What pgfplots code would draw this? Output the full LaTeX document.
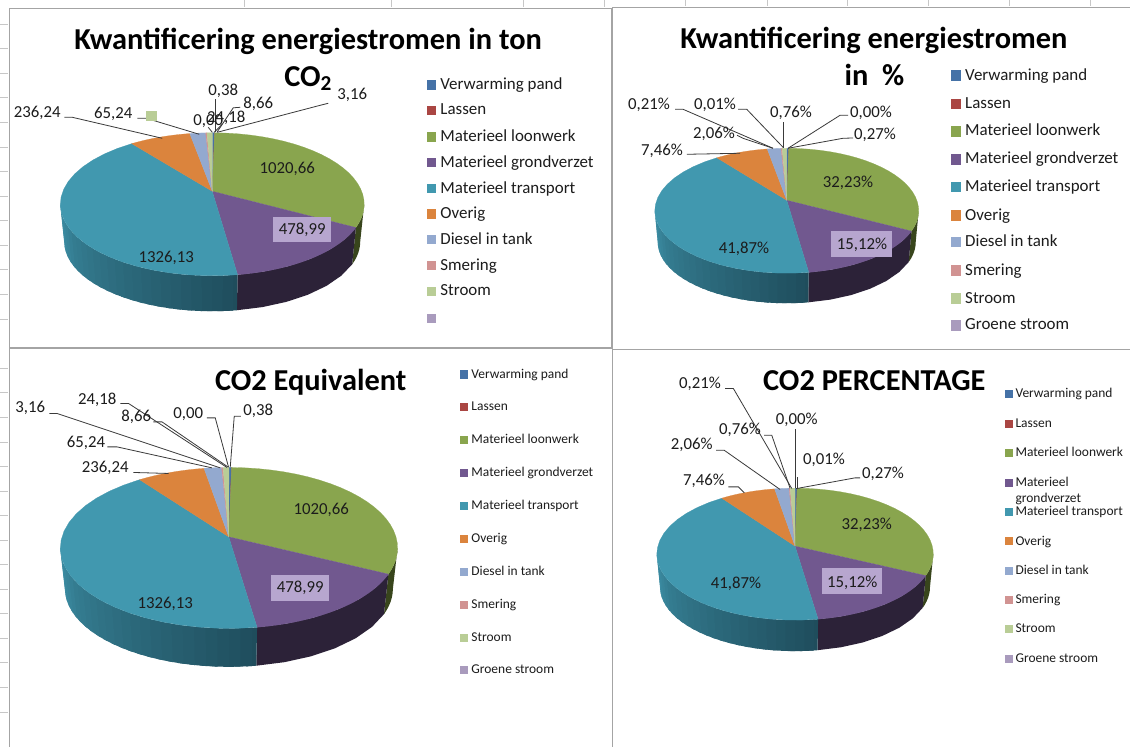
\documentclass[border=0pt]{standalone}
\usepackage{pgfplots}
\pgfplotsset{compat=1.18}
\usepackage{fontspec}
\setmainfont{Carlito}
\definecolor{cVerw}{HTML}{4572A7}
\definecolor{cLas}{HTML}{AA4643}
\definecolor{cLoon}{HTML}{89A54E}
\definecolor{cGrond}{HTML}{71588F}
\definecolor{cTrans}{HTML}{4198AF}
\definecolor{cOver}{HTML}{DB843D}
\definecolor{cDies}{HTML}{93A9CF}
\definecolor{cSmer}{HTML}{D19392}
\definecolor{cStro}{HTML}{B9CD96}
\definecolor{cGroen}{HTML}{A99BBD}
\definecolor{sideG}{HTML}{38451C}
\definecolor{sideP}{HTML}{2C2238}
\definecolor{sideTL}{HTML}{3B8BA1}
\definecolor{sideTD}{HTML}{1F4D5C}
\definecolor{boxP}{HTML}{B7A6CF}
\definecolor{frameC}{HTML}{A4A4A4}
\definecolor{txtC}{HTML}{1C1C1C}
\definecolor{leadC}{HTML}{3A3A3A}
% top-face wedge: #1,#2 = rim parameters, #3 = colour
\newcommand{\slice}[3]{%
  \xdef\clist{(\ax,\ay)}%
  \foreach \i in {0,...,24}{%
    \pgfmathsetmacro\t{#1+(#2-#1)*\i/24}%
    \pgfmathsetmacro\xx{\cx+\rx*sin(\t)}%
    \pgfmathsetmacro\yy{\cy-\ry*cos(\t)}%
    \xdef\clist{\clist (\xx,\yy)}%
  }%
  \edef\temp{\noexpand\addplot[fill=#3,draw=#3,line width=0.15pt] coordinates {\clist} -- cycle;}\temp
}
% side strip: between upper and lower rim
\newcommand{\side}[3]{%
  \xdef\clist{}%
  \foreach \i in {0,...,6}{%
    \pgfmathsetmacro\t{#1+(#2-#1)*\i/6}%
    \pgfmathsetmacro\xx{\cx+\rx*sin(\t)}%
    \pgfmathsetmacro\yy{\cy-\ry*cos(\t)}%
    \xdef\clist{\clist (\xx,\yy)}%
  }%
  \foreach \i in {6,...,0}{%
    \pgfmathsetmacro\t{#1+(#2-#1)*\i/6}%
    \pgfmathsetmacro\xx{\cx+\rxb*sin(\t)}%
    \pgfmathsetmacro\yy{\cyb-\ryb*cos(\t)}%
    \xdef\clist{\clist (\xx,\yy)}%
  }%
  \edef\temp{\noexpand\addplot[fill=#3,draw=none] coordinates {\clist} -- cycle;}\temp
}
\newcommand{\pie}{%
  \side{90}{109}{sideG}%
  \side{109}{170.4}{sideP}%
  \foreach \tA/\tB/\m in {170.4/174/0,172/178/4,176/182/8,180/186/12,184/190/16,188/194/20,192/198/24,196/202/28,200/206/32,204/210/36,208/214/40,212/218/44,216/222/48,220/226/52,224/230/56,228/234/60,232/238/64,236/242/68,240/246/72,244/250/76,248/254/82,252/258/88,256/262/94,260/266/100,264/272/100}{%
    \side{\tA}{\tB}{sideTL!\m!sideTD}%
  }%
  \slice{0}{0.85}{cVerw}%
  \slice{0.85}{0.9}{cLas}%
  \slice{0.9}{109}{cLoon}%
  \slice{109}{170.4}{cGrond}%
  \slice{170.4}{328}{cTrans}%
  \slice{328}{351.5}{cOver}%
  \slice{351.5}{357.5}{cDies}%
  \slice{357.5}{358}{cSmer}%
  \slice{358}{360}{cStro}%
}
\newcommand{\lab}[3]{\node[anchor=center,inner sep=0pt,yshift=-0.5pt,text=txtC,font=\fontsize{12.6}{14}\selectfont] at (axis cs:#1,#2) {#3};}
\newcommand{\ttl}[3]{\node[anchor=base,inner sep=0pt,text=black,font=\fontsize{22.8}{26}\selectfont\bfseries] at (axis cs:#1,#2) {#3};}
\newcommand{\lead}[1]{\addplot[leadC,line width=0.6pt] coordinates {#1};}
\newcommand{\boxp}[4]{\addplot[fill=boxP,draw=none] coordinates {(#1,#3) (#2,#3) (#2,#4) (#1,#4)} -- cycle;}
% legend entry: marker x, text x, y, half-size, colour, text, font size
\newcommand{\lgd}[7]{%
  \addplot[only marks,mark=square*,mark size=#4,color=#5] coordinates {(#1,#3)};
  \node[anchor=west,inner sep=0pt,yshift=-0.4pt,text=txtC,font=\fontsize{#7}{#7}\selectfont] at (axis cs:#2,#3) {\vphantom{Mg}#6};
}
\begin{document}
\begin{tikzpicture}
\begin{axis}[
  scale only axis,width=848.25pt,height=560.25pt,
  xmin=0,xmax=1131,ymin=0,ymax=747,y dir=reverse,
  hide axis,clip=false,unbounded coords=jump,
  every axis plot/.append style={forget plot},
]
% page extent
\addplot[draw=none,fill=white] coordinates {(0,0) (1131,0) (1131,747) (0,747)} -- cycle;
% sheet grid stubs
\addplot[black!22,line width=0.5pt] coordinates {(0,24) (8,24) (nan,nan) (0,48) (8,48) (nan,nan) (0,73) (8,73) (nan,nan) (0,97) (8,97) (nan,nan) (0,122) (8,122) (nan,nan) (0,147) (8,147) (nan,nan) (0,171) (8,171) (nan,nan) (0,196) (8,196) (nan,nan) (0,220) (8,220) (nan,nan) (0,245) (8,245) (nan,nan) (0,269) (8,269) (nan,nan) (0,294) (8,294) (nan,nan) (0,319) (8,319) (nan,nan) (0,368) (8,368) (nan,nan) (0,392) (8,392) (nan,nan) (0,417) (8,417) (nan,nan) (0,442) (8,442) (nan,nan) (0,466) (8,466) (nan,nan) (0,491) (8,491) (nan,nan) (0,515) (8,515) (nan,nan) (0,540) (8,540) (nan,nan) (0,564) (8,564) (nan,nan) (0,589) (8,589) (nan,nan) (0,613) (8,613) (nan,nan) (0,638) (8,638) (nan,nan) (0,662) (8,662) (nan,nan) (0,687) (8,687) (nan,nan) (0,712) (8,712)};
\addplot[black!22,line width=0.5pt] coordinates {(244,0) (244,7) (nan,nan) (391,0) (391,7) (nan,nan) (523,0) (523,7) (nan,nan) (604,0) (604,7) (nan,nan) (685,0) (685,6) (nan,nan) (767,0) (767,6) (nan,nan) (847,0) (847,6) (nan,nan) (928,0) (928,6) (nan,nan) (1009,0) (1009,6) (nan,nan) (1090,0) (1090,6)};
% frames
\addplot[frameC,line width=0.9pt] coordinates {(9,746.5) (9,8) (611.5,8) (611.5,348)};
\addplot[frameC,line width=1.1pt] coordinates {(9,348) (612.5,348) (612.5,746.5)};
\addplot[frameC,line width=0.9pt] coordinates {(612,348) (612,7) (1130.5,7)};
\addplot[frameC,line width=0.9pt] coordinates {(613,349.5) (1130.5,349.5)};
% ---------- chart 1
\def\cx{212}\def\cy{204}\def\rx{152}\def\ry{71.5}\def\ax{212}\def\ay{191}\def\rxb{148}\def\ryb{69.5}\def\cyb{241.5}
\pie
\ttl{308}{49}{Kwantificering energiestromen in ton}
\ttl{308}{86}{CO\textsubscript{2}}
\lead{(64,117) (72,117) (162,138)}
\lead{(137,118) (146,118) (199,134)}
\lead{(328,103) (320,105) (217,132)}
\lead{(240,107) (233,107.5) (217,131.5)}
\lead{(215,99) (215,132)}
\lead{(222,124) (214,132)}
\lead{(208,127) (212,132)}
\addplot[only marks,mark=square*,mark size=3.6pt,color=cStro] coordinates {(151,115.5)};
\boxp{273}{331}{217}{242}
\lab{223}{89.5}{0,38}
\lab{258}{103}{8,66}
\lab{352}{94}{3,16}
\lab{37}{112}{236,24}
\lab{113}{113}{65,24}
\lab{208}{120}{0,00}
\lab{226}{117}{24,18}
\lab{287}{168}{1020,66}
\lab{302}{229}{478,99}
\lab{166}{257}{1326,13}
\lgd{431}{440}{84.7}{3.2pt}{cVerw}{Verwarming pand}{12.7}
\lgd{431}{440}{110}{3.2pt}{cLas}{Lassen}{12.7}
\lgd{431}{440}{136.3}{3.2pt}{cLoon}{Materieel loonwerk}{12.7}
\lgd{431}{440}{162}{3.2pt}{cGrond}{Materieel grondverzet}{12.7}
\lgd{431}{440}{188}{3.2pt}{cTrans}{Materieel transport}{12.7}
\lgd{431}{440}{213.7}{3.2pt}{cOver}{Overig}{12.7}
\lgd{431}{440}{239}{3.2pt}{cDies}{Diesel in tank}{12.7}
\lgd{431}{440}{265}{3.2pt}{cSmer}{Smering}{12.7}
\lgd{431}{440}{291}{3.2pt}{cStro}{Stroom}{12.7}
\addplot[only marks,mark=square*,mark size=3.2pt,color=cGroen] coordinates {(431,318)};
% ---------- chart 2
\def\cx{786.7}\def\cy{210.5}\def\rx{132}\def\ry{62.5}\def\ax{786.7}\def\ay{200}\def\rxb{129}\def\ryb{61}\def\cyb{242}
\pie
\ttl{874}{47.7}{Kwantificering energiestromen}
\ttl{874.5}{85}{in\ \ \%}
\lead{(675,109) (683,109) (773,148)}
\lead{(737,135) (743,138) (773,148)}
\lead{(738,109) (746.7,109) (783,147)}
\lead{(783.3,122) (783.3,148)}
\lead{(686.7,154) (740,153)}
\lead{(848,115) (840,115) (788,148)}
\lead{(853,137.7) (843,138) (788,148)}
\boxp{831}{892}{231}{257}
\lab{649}{104}{0,21\%}
\lab{715}{104}{0,01\%}
\lab{791}{112}{0,76\%}
\lab{871}{112}{0,00\%}
\lab{875}{134}{0,27\%}
\lab{714}{133}{2,06\%}
\lab{662}{150}{7,46\%}
\lab{848}{182}{32,23\%}
\lab{862}{244}{15,12\%}
\lab{744}{248}{41,87\%}
\lgd{955.7}{965}{75}{3.6pt}{cVerw}{Verwarming pand}{12.7}
\lgd{955.7}{965}{103.3}{3.6pt}{cLas}{Lassen}{12.7}
\lgd{955.7}{965}{130.7}{3.6pt}{cLoon}{Materieel loonwerk}{12.7}
\lgd{955.7}{965}{158.7}{3.6pt}{cGrond}{Materieel grondverzet}{12.7}
\lgd{955.7}{965}{186.7}{3.6pt}{cTrans}{Materieel transport}{12.7}
\lgd{955.7}{965}{215}{3.6pt}{cOver}{Overig}{12.7}
\lgd{955.7}{965}{241.7}{3.6pt}{cDies}{Diesel in tank}{12.7}
\lgd{955.7}{965}{270}{3.6pt}{cSmer}{Smering}{12.7}
\lgd{955.7}{965}{298.3}{3.6pt}{cStro}{Stroom}{12.7}
\lgd{955.7}{965}{325}{3.6pt}{cGroen}{Groene stroom}{12.7}
% ---------- chart 3
\def\cx{228.7}\def\cy{547.8}\def\rx{168.7}\def\ry{80.5}\def\ax{228.5}\def\ay{536.7}\def\rxb{164}\def\ryb{78}\def\cyb{588.7}
\pie
\ttl{310.5}{390}{CO2 Equivalent}
\lead{(120,403.3) (128.3,403.3) (226.7,467.3)}
\lead{(153,421.7) (161.7,421.7) (228,467)}
\lead{(49,413.3) (56.7,413.3) (220,467.7)}
\lead{(107,446.7) (116.7,446.7) (211.7,467.7)}
\lead{(133,472.3) (168.3,473.3)}
\lead{(206.7,417.7) (215,417.7) (228.3,467)}
\lead{(240.7,416) (234,416) (230,467)}
\boxp{271}{329}{575}{600.7}
\lab{97}{399}{24,18}
\lab{136}{416}{8,66}
\lab{30}{407.3}{3,16}
\lab{188}{413}{0,00}
\lab{258}{410}{0,38}
\lab{85.7}{442}{65,24}
\lab{105}{466.7}{236,24}
\lab{321}{509}{1020,66}
\lab{300}{587.3}{478,99}
\lab{165}{603}{1326,13}
\lgd{463.3}{471}{374}{2.7pt}{cVerw}{Verwarming pand}{10.1}
\lgd{463.3}{471}{406.7}{2.7pt}{cLas}{Lassen}{10.1}
\lgd{463.3}{471}{439.3}{2.7pt}{cLoon}{Materieel loonwerk}{10.1}
\lgd{463.3}{471}{472.7}{2.7pt}{cGrond}{Materieel grondverzet}{10.1}
\lgd{463.3}{471}{505.7}{2.7pt}{cTrans}{Materieel transport}{10.1}
\lgd{463.3}{471}{538.7}{2.7pt}{cOver}{Overig}{10.1}
\lgd{463.3}{471}{571.7}{2.7pt}{cDies}{Diesel in tank}{10.1}
\lgd{463.3}{471}{604.3}{2.7pt}{cSmer}{Smering}{10.1}
\lgd{463.3}{471}{637.3}{2.7pt}{cStro}{Stroom}{10.1}
\lgd{463.3}{471}{670}{2.7pt}{cGroen}{Groene stroom}{10.1}
% ---------- chart 4
\def\cx{795}\def\cy{554}\def\rx{138.3}\def\ry{66}\def\ax{795}\def\ay{546}\def\rxb{135}\def\ryb{64}\def\cyb{587}
\pie
\ttl{874.3}{390}{CO2 PERCENTAGE}
\lead{(725,388.3) (733.3,388.3) (791.7,488.3)}
\lead{(764,435) (771.7,435) (790,488)}
\lead{(716,450) (724,450) (780,489.3)}
\lead{(728.3,486.7) (738.3,486.7) (744.3,492.7)}
\lead{(795,429) (795,488)}
\lead{(797,477) (797,488)}
\lead{(860,477.7) (855,477.7) (796,488.5)}
\boxp{822.3}{882.3}{568.3}{594}
\lab{700}{382.7}{0,21\%}
\lab{740}{429.3}{0,76\%}
\lab{691.7}{444.3}{2,06\%}
\lab{796.7}{419}{0,00\%}
\lab{824}{459.3}{0,01\%}
\lab{883}{472.7}{0,27\%}
\lab{704}{480}{7,46\%}
\lab{866.7}{524}{32,23\%}
\lab{852.3}{581.7}{15,12\%}
\lab{736}{583}{41,87\%}
\lgd{1008.7}{1015.3}{393.7}{2.7pt}{cVerw}{Verwarming pand}{10.1}
\lgd{1008.7}{1015.3}{423.3}{2.7pt}{cLas}{Lassen}{10.1}
\lgd{1008.7}{1015.3}{452.7}{2.7pt}{cLoon}{Materieel loonwerk}{10.1}
\lgd{1008.7}{1015.3}{482.3}{2.7pt}{cGrond}{Materieel}{10.1}
\node[anchor=west,inner sep=0pt,yshift=-0.4pt,text=txtC,font=\fontsize{10.1}{10.1}\selectfont] at (axis cs:1015.3,498.3) {\vphantom{Mg}grondverzet};
\lgd{1008.7}{1015.3}{511.7}{2.7pt}{cTrans}{Materieel transport}{10.1}
\lgd{1008.7}{1015.3}{541}{2.7pt}{cOver}{Overig}{10.1}
\lgd{1008.7}{1015.3}{570.7}{2.7pt}{cDies}{Diesel in tank}{10.1}
\lgd{1008.7}{1015.3}{599.3}{2.7pt}{cSmer}{Smering}{10.1}
\lgd{1008.7}{1015.3}{629}{2.7pt}{cStro}{Stroom}{10.1}
\lgd{1008.7}{1015.3}{659}{2.7pt}{cGroen}{Groene stroom}{10.1}
\end{axis}
\end{tikzpicture}
\end{document}
